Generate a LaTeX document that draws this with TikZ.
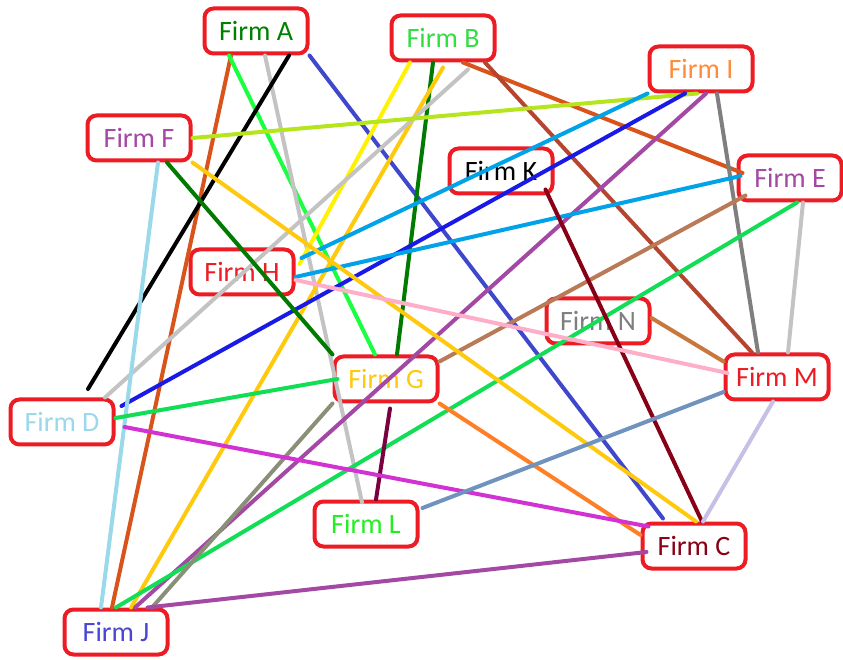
\documentclass[tikz,border=0pt]{standalone}
\usepackage{fontspec}
\setmainfont{Carlito}
\usepackage{xcolor}

\definecolor{boxred}{HTML}{ED1C24}
\definecolor{darkgreen}{HTML}{008000}
\definecolor{leafgreen}{HTML}{33DD44}
\definecolor{apricot}{HTML}{FF8C3C}
\definecolor{plumtext}{HTML}{A349A4}
\definecolor{greytext}{HTML}{7F7F7F}
\definecolor{goldtext}{HTML}{FFC90E}
\definecolor{paleblue}{HTML}{99D9EA}
\definecolor{limetext}{HTML}{22EE22}
\definecolor{winered}{HTML}{880015}
\definecolor{indigotext}{HTML}{4B45D6}

\definecolor{rust}{HTML}{D9541A}
\definecolor{neongreen}{HTML}{1AFF40}
\definecolor{silver}{HTML}{C3C3C3}
\definecolor{indigo}{HTML}{3F48CC}
\definecolor{lemon}{HTML}{FFF200}
\definecolor{forest}{HTML}{007A00}
\definecolor{amber}{HTML}{FFC90E}
\definecolor{brick}{HTML}{B5452E}
\definecolor{lime}{HTML}{B5E61D}
\definecolor{turquoise}{HTML}{00A2E8}
\definecolor{royal}{HTML}{1A1AE6}
\definecolor{violet}{HTML}{A349A4}
\definecolor{slate}{HTML}{7F7F7F}
\definecolor{clay}{HTML}{B97A57}
\definecolor{jade}{HTML}{11DD55}
\definecolor{maroon}{HTML}{880015}
\definecolor{rose}{HTML}{FFAEC9}
\definecolor{copper}{HTML}{C8783C}
\definecolor{tangerine}{HTML}{FF7F27}
\definecolor{olivegrey}{HTML}{8A8F78}
\definecolor{mulberry}{HTML}{7A0040}
\definecolor{fuchsia}{HTML}{D232D2}
\definecolor{bluegrey}{HTML}{7092BE}
\definecolor{lavender}{HTML}{C8BFE7}

\begin{document}
\begin{tikzpicture}[x=1pt,y=1pt,
    firm/.style={draw=boxred, line width=4pt, rounded corners=9pt, fill=white,
      minimum width=103pt, minimum height=45pt, inner sep=0pt,
      font=\fontsize{28}{30}\selectfont},
    link/.style={line width=4pt, line cap=round}]
      \useasboundingbox (0,0) rectangle (843,659);
      % firms
      \node[firm, text=darkgreen] (A) at (256,628) {Firm A};
      \node[firm, text=leafgreen] (B) at (443,621) {Firm B};
      \node[firm, text=apricot] (I) at (701,590) {Firm I};
      \node[firm, text=plumtext] (F) at (139,521) {Firm F};
      \node[firm, text=black] (K) at (501,488) {Firm K};
      \node[firm, text=plumtext] (E) at (790,481) {Firm E};
      \node[firm, text=boxred] (H) at (242,387) {Firm H};
      \node[firm, text=greytext] (N) at (598,338) {Firm N};
      \node[firm, text=goldtext] (G) at (386,280) {Firm G};
      \node[firm, text=boxred] (M) at (777,282) {Firm M};
      \node[firm, text=paleblue] (D) at (62,237) {Firm D};
      \node[firm, text=limetext] (L) at (366,135) {Firm L};
      \node[firm, text=winered] (C) at (694,113) {Firm C};
      \node[firm, text=indigotext] (J) at (116,27) {Firm J};
      \coordinate (blackend) at (88,270);
      % links from A
      \draw[link, rust] ([xshift=-25pt]A.south) -- ([xshift=-4pt]J.north);
      \draw[link, neongreen] ([xshift=-27pt]A.south) -- ([xshift=-11pt]G.north);
      \draw[link, silver] ([xshift=9pt]A.south) -- ([shift={(-4pt,-3pt)}]L.north);
      \draw[link, black] ([xshift=33pt]A.south) -- (blackend);
      \draw[link, indigo] (A.south east) -- ([shift={(-31pt,3pt)}]C.north);
      % links from B
      \draw[link, lemon] ([xshift=-33pt]B.south) -- ([shift={(4pt,8pt)}]H.east);
      \draw[link, forest] ([xshift=-10pt]B.south) -- ([xshift=11pt]G.north);
      \draw[link, amber] ([yshift=-5pt]B.south) -- ([xshift=15pt]J.north);
      \draw[link, silver] ([shift={(25pt,-7pt)}]B.south) -- ([xshift=43pt]D.north);
      \draw[link, rust] ([xshift=20pt]B.south) -- ([shift={(6pt,5pt)}]E.west);
      \draw[link, brick] ([xshift=42pt]B.south) -- ([xshift=-25pt]M.north);
      % links from I
      \draw[link, lime] ([xshift=-4pt]I.south) -- (F.east);
      \draw[link, turquoise] (I.south west) -- ([shift={(6pt,14pt)}]H.east);
      \draw[link, royal] ([xshift=-16pt]I.south) -- ([shift={(6pt,16pt)}]D.east);
      \draw[link, violet] ([xshift=5pt]I.south) -- ([xshift=19pt]J.north);
      \draw[link, slate] ([xshift=16pt]I.south) -- ([xshift=-19pt]M.north);
      % links from E
      \draw[link, turquoise] ([shift={(4pt,2pt)}]E.west) -- ([yshift=-5pt]H.east);
      \draw[link, clay] ([shift={(9pt,7pt)}]E.south west) -- ([yshift=-7pt]G.north east);
      \draw[link, jade] ([xshift=7pt]E.south) -- (J.north);
      \draw[link, silver] ([xshift=13pt]E.south) -- ([xshift=11pt]M.north);
      % links from F, K, H, N
      \draw[link, paleblue] ([xshift=19pt]F.south) -- ([xshift=-15pt]J.north);
      \draw[link, forest] ([xshift=28pt]F.south) -- (G.north west);
      \draw[link, amber] (F.south east) -- ([xshift=2pt]C.north);
      \draw[link, maroon] ([shift={(-9pt,6pt)}]K.south east) -- ([xshift=8pt]C.north);
      \draw[link, rose] ([yshift=-8pt]H.east) -- ([shift={(4pt,4pt)}]M.west);
      \draw[link, copper] ([yshift=3pt]N.east) -- ([yshift=-9pt]M.north west);
      % links from G
      \draw[link, jade] ([xshift=5pt]G.west) -- ([yshift=4pt]D.east);
      \draw[link, tangerine] (G.south east) -- ([yshift=11pt]C.west);
      \draw[link, olivegrey] (G.south west) -- ([xshift=36pt]J.north);
      \draw[link, mulberry] ([shift={(4pt,-5pt)}]G.south) -- ([xshift=10pt]L.north);
      % links from D, L, M, C
      \draw[link, fuchsia] ([shift={(9pt,-5pt)}]D.east) -- ([shift={(8pt,-5pt)}]C.north west);
      \draw[link, bluegrey] ([shift={(3pt,16pt)}]L.east) -- ([yshift=-15pt]M.west);
      \draw[link, lavender] ([xshift=-4pt]M.south) -- ([xshift=9pt]C.north);
      \draw[link, violet] ([shift={(6pt,-6pt)}]C.west) -- ([xshift=-22pt]J.north east);
    \end{tikzpicture}
\end{document}
